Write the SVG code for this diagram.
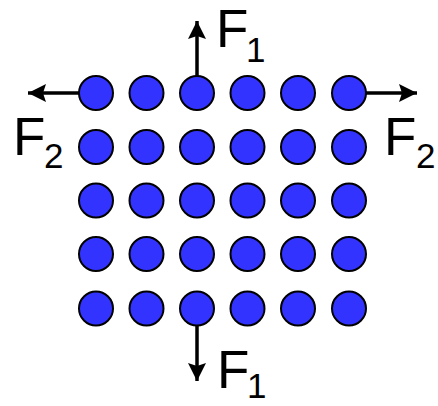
<svg xmlns="http://www.w3.org/2000/svg" width="438" height="406" viewBox="0 0 438 406">
<style>
.p{fill:#3333FF;stroke:#000;stroke-width:2}
.a{stroke:#000;stroke-width:3.5;fill:none}
.t{font-family:"Liberation Sans",Arial,sans-serif;fill:#000;font-size:53px}
.s{font-size:35px}
</style>
<defs>
<marker id="ah" markerUnits="userSpaceOnUse" markerWidth="22" markerHeight="22" viewBox="0 0 22 22" refX="19" refY="11" orient="auto">
<path d="M1,2 L19,11 L1,20 L4,11 Z" fill="#000"/>
</marker>
</defs>
<rect width="438" height="406" fill="#fff"/>
<g id="connectors">
<line class="a" x1="197" y1="76" x2="197" y2="21" marker-end="url(#ah)"/>
<line class="a" x1="197" y1="326" x2="197" y2="381" marker-end="url(#ah)"/>
<line class="a" x1="79" y1="93" x2="28" y2="93" marker-end="url(#ah)"/>
<line class="a" x1="366" y1="93" x2="417" y2="93" marker-end="url(#ah)"/>
</g>
<g id="particles">
<g id="r1">
<circle class="p" cx="96" cy="93" r="17"/><circle class="p" cx="146.5" cy="93" r="17"/><circle class="p" cx="197" cy="93" r="17"/><circle class="p" cx="247.5" cy="93" r="17"/><circle class="p" cx="298" cy="93" r="17"/><circle class="p" cx="349" cy="93" r="17"/>
</g>
<g id="r2">
<circle class="p" cx="96" cy="147" r="17"/><circle class="p" cx="146.5" cy="147" r="17"/><circle class="p" cx="197" cy="147" r="17"/><circle class="p" cx="247.5" cy="147" r="17"/><circle class="p" cx="298" cy="147" r="17"/><circle class="p" cx="349" cy="147" r="17"/>
</g>
<g id="r3">
<circle class="p" cx="96" cy="200.5" r="17"/><circle class="p" cx="146.5" cy="200.5" r="17"/><circle class="p" cx="197" cy="200.5" r="17"/><circle class="p" cx="247.5" cy="200.5" r="17"/><circle class="p" cx="298" cy="200.5" r="17"/><circle class="p" cx="349" cy="200.5" r="17"/>
</g>
<g id="r4">
<circle class="p" cx="96" cy="254" r="17"/><circle class="p" cx="146.5" cy="254" r="17"/><circle class="p" cx="197" cy="254" r="17"/><circle class="p" cx="247.5" cy="254" r="17"/><circle class="p" cx="298" cy="254" r="17"/><circle class="p" cx="349" cy="254" r="17"/>
</g>
<g id="r5">
<circle class="p" cx="96" cy="308.5" r="17"/><circle class="p" cx="146.5" cy="308.5" r="17"/><circle class="p" cx="197" cy="308.5" r="17"/><circle class="p" cx="247.5" cy="308.5" r="17"/><circle class="p" cx="298" cy="308.5" r="17"/><circle class="p" cx="349" cy="308.5" r="17"/>
</g>
</g>
<g id="labels">
<g id="f1top"><text class="t" x="216" y="47">F<tspan class="s" x="246" y="62">1</tspan></text></g>
<g id="f2left"><text class="t" x="13" y="155">F<tspan class="s" x="44" y="168">2</tspan></text></g>
<g id="f2right"><text class="t" x="384" y="155">F<tspan class="s" x="416" y="168">2</tspan></text></g>
<g id="f1bottom"><text class="t" x="217" y="388">F<tspan class="s" x="247" y="398">1</tspan></text></g>
</g>
</svg>
